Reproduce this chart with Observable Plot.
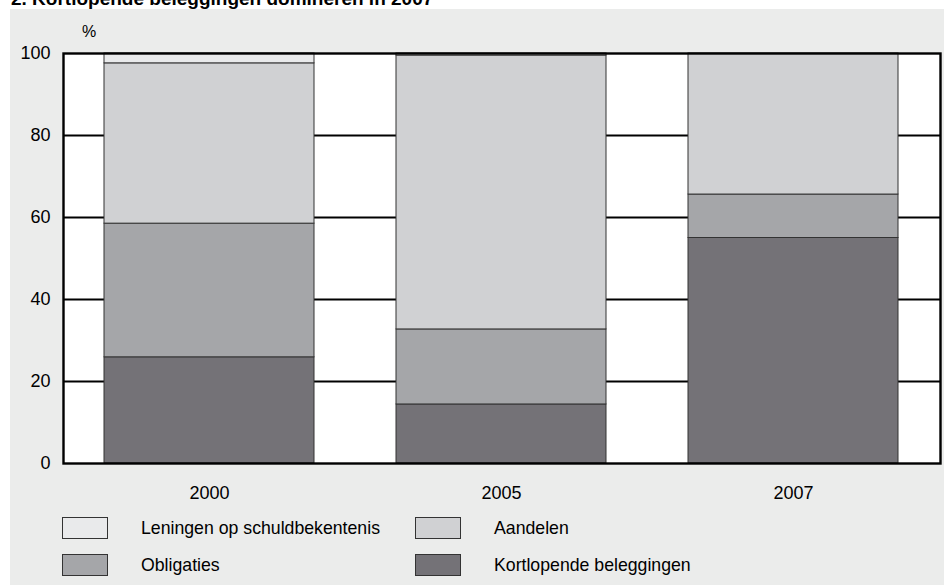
<!DOCTYPE html>
<html>
<head>
<meta charset="utf-8">
<script src="https://cdn.jsdelivr.net/npm/d3@7"></script>
<script src="https://cdn.jsdelivr.net/npm/@observablehq/plot@0.6"></script>
<style>
  html, body { margin: 0; padding: 0; background: #ffffff; }
  body { width: 944px; height: 585px; position: relative; overflow: hidden; font-family: "Liberation Sans", Arial, Helvetica, sans-serif; }
  #bg { position: absolute; left: 10px; top: 9px; width: 934px; height: 576px; background: #ebeceb; }
  #title { position: absolute; left: 11px; top: -11px; font-size: 19px; line-height: 19px; font-weight: bold; color: #000; white-space: nowrap; }
  #chart { position: absolute; left: 0; top: 9px; }
  #pct { position: absolute; left: 82px; top: 23px; font-size: 16px; color: #000; }
  #legend { position: absolute; left: 0; top: 514px; width: 944px; height: 70px; }
  .item { position: absolute; display: flex; align-items: center; font-size: 17.7px; color: #000; white-space: nowrap; }
  .sw { width: 46px; height: 22px; border: 1px solid #333; box-sizing: border-box; margin-right: 33px; }
</style>
</head>
<body>
<div id="bg"></div>
<div id="title">2. Kortlopende beleggingen domineren in 2007</div>
<div id="chart"></div>
<div id="pct">%</div>
<div id="legend"></div>
<script>
// Data (percent of total)
const years = ["2000", "2005", "2007"];
const seriesNames = ["Kortlopende beleggingen", "Obligaties", "Aandelen", "Leningen op schuldbekentenis"];
const kortlopende = [25.9, 14.4, 55.0];
const obligaties = [32.6, 18.3, 10.6];
const aandelen = [39.1, 66.8, 34.4];
const leningen = [2.4, 0.5, 0.0];
const yTicks = [0, 20, 40, 60, 80, 100];
const gridValues = [20, 40, 60, 80];
const colors = ["#747277", "#a5a6a9", "#d0d1d3", "#e9eaeb"];

const seriesValues = [kortlopende, obligaties, aandelen, leningen];
const rows = [];
years.forEach((yr, i) => {
  seriesNames.forEach((s, j) => {
    if (seriesValues[j][i] > 0) rows.push({year: yr, series: s, value: seriesValues[j][i]});
  });
});

const chart = Plot.plot({
  width: 944,
  height: 505,
  marginLeft: 63,
  marginRight: 4,
  marginTop: 44,
  marginBottom: 51,
  style: {background: "transparent", fontFamily: "'Liberation Sans', Arial, Helvetica, sans-serif", fontSize: "18px", color: "#000"},
  x: {domain: years, paddingInner: 0.28, paddingOuter: 0.14, label: null, tickSize: 0, tickPadding: 23},
  y: {domain: [0, 100], ticks: yTicks, label: null, tickSize: 0, tickPadding: 13},
  color: {domain: seriesNames, range: colors},
  marks: [
    Plot.frame({fill: "#ffffff", stroke: "none"}),
    Plot.ruleY(gridValues, {stroke: "#000", strokeWidth: 2.2}),
    Plot.barY(rows, {x: "year", y: "value", fill: "series", order: seriesNames, stroke: "#333", strokeWidth: 1, inset: 0}),
    Plot.frame({stroke: "#000", strokeWidth: 2.4})
  ]
});
document.getElementById("chart").appendChild(chart);

// Legend (HTML)
const legendLayout = [
  {name: "Leningen op schuldbekentenis", color: colors[3], left: 62, top: 3},
  {name: "Aandelen", color: colors[2], left: 415, top: 3},
  {name: "Obligaties", color: colors[1], left: 62, top: 40},
  {name: "Kortlopende beleggingen", color: colors[0], left: 415, top: 40}
];
const legend = document.getElementById("legend");
legendLayout.forEach(d => {
  const it = document.createElement("div");
  it.className = "item";
  it.style.left = d.left + "px";
  it.style.top = d.top + "px";
  const sw = document.createElement("div");
  sw.className = "sw";
  sw.style.background = d.color;
  const tx = document.createElement("span");
  tx.textContent = d.name;
  it.appendChild(sw);
  it.appendChild(tx);
  legend.appendChild(it);
});
</script>
</body>
</html>
